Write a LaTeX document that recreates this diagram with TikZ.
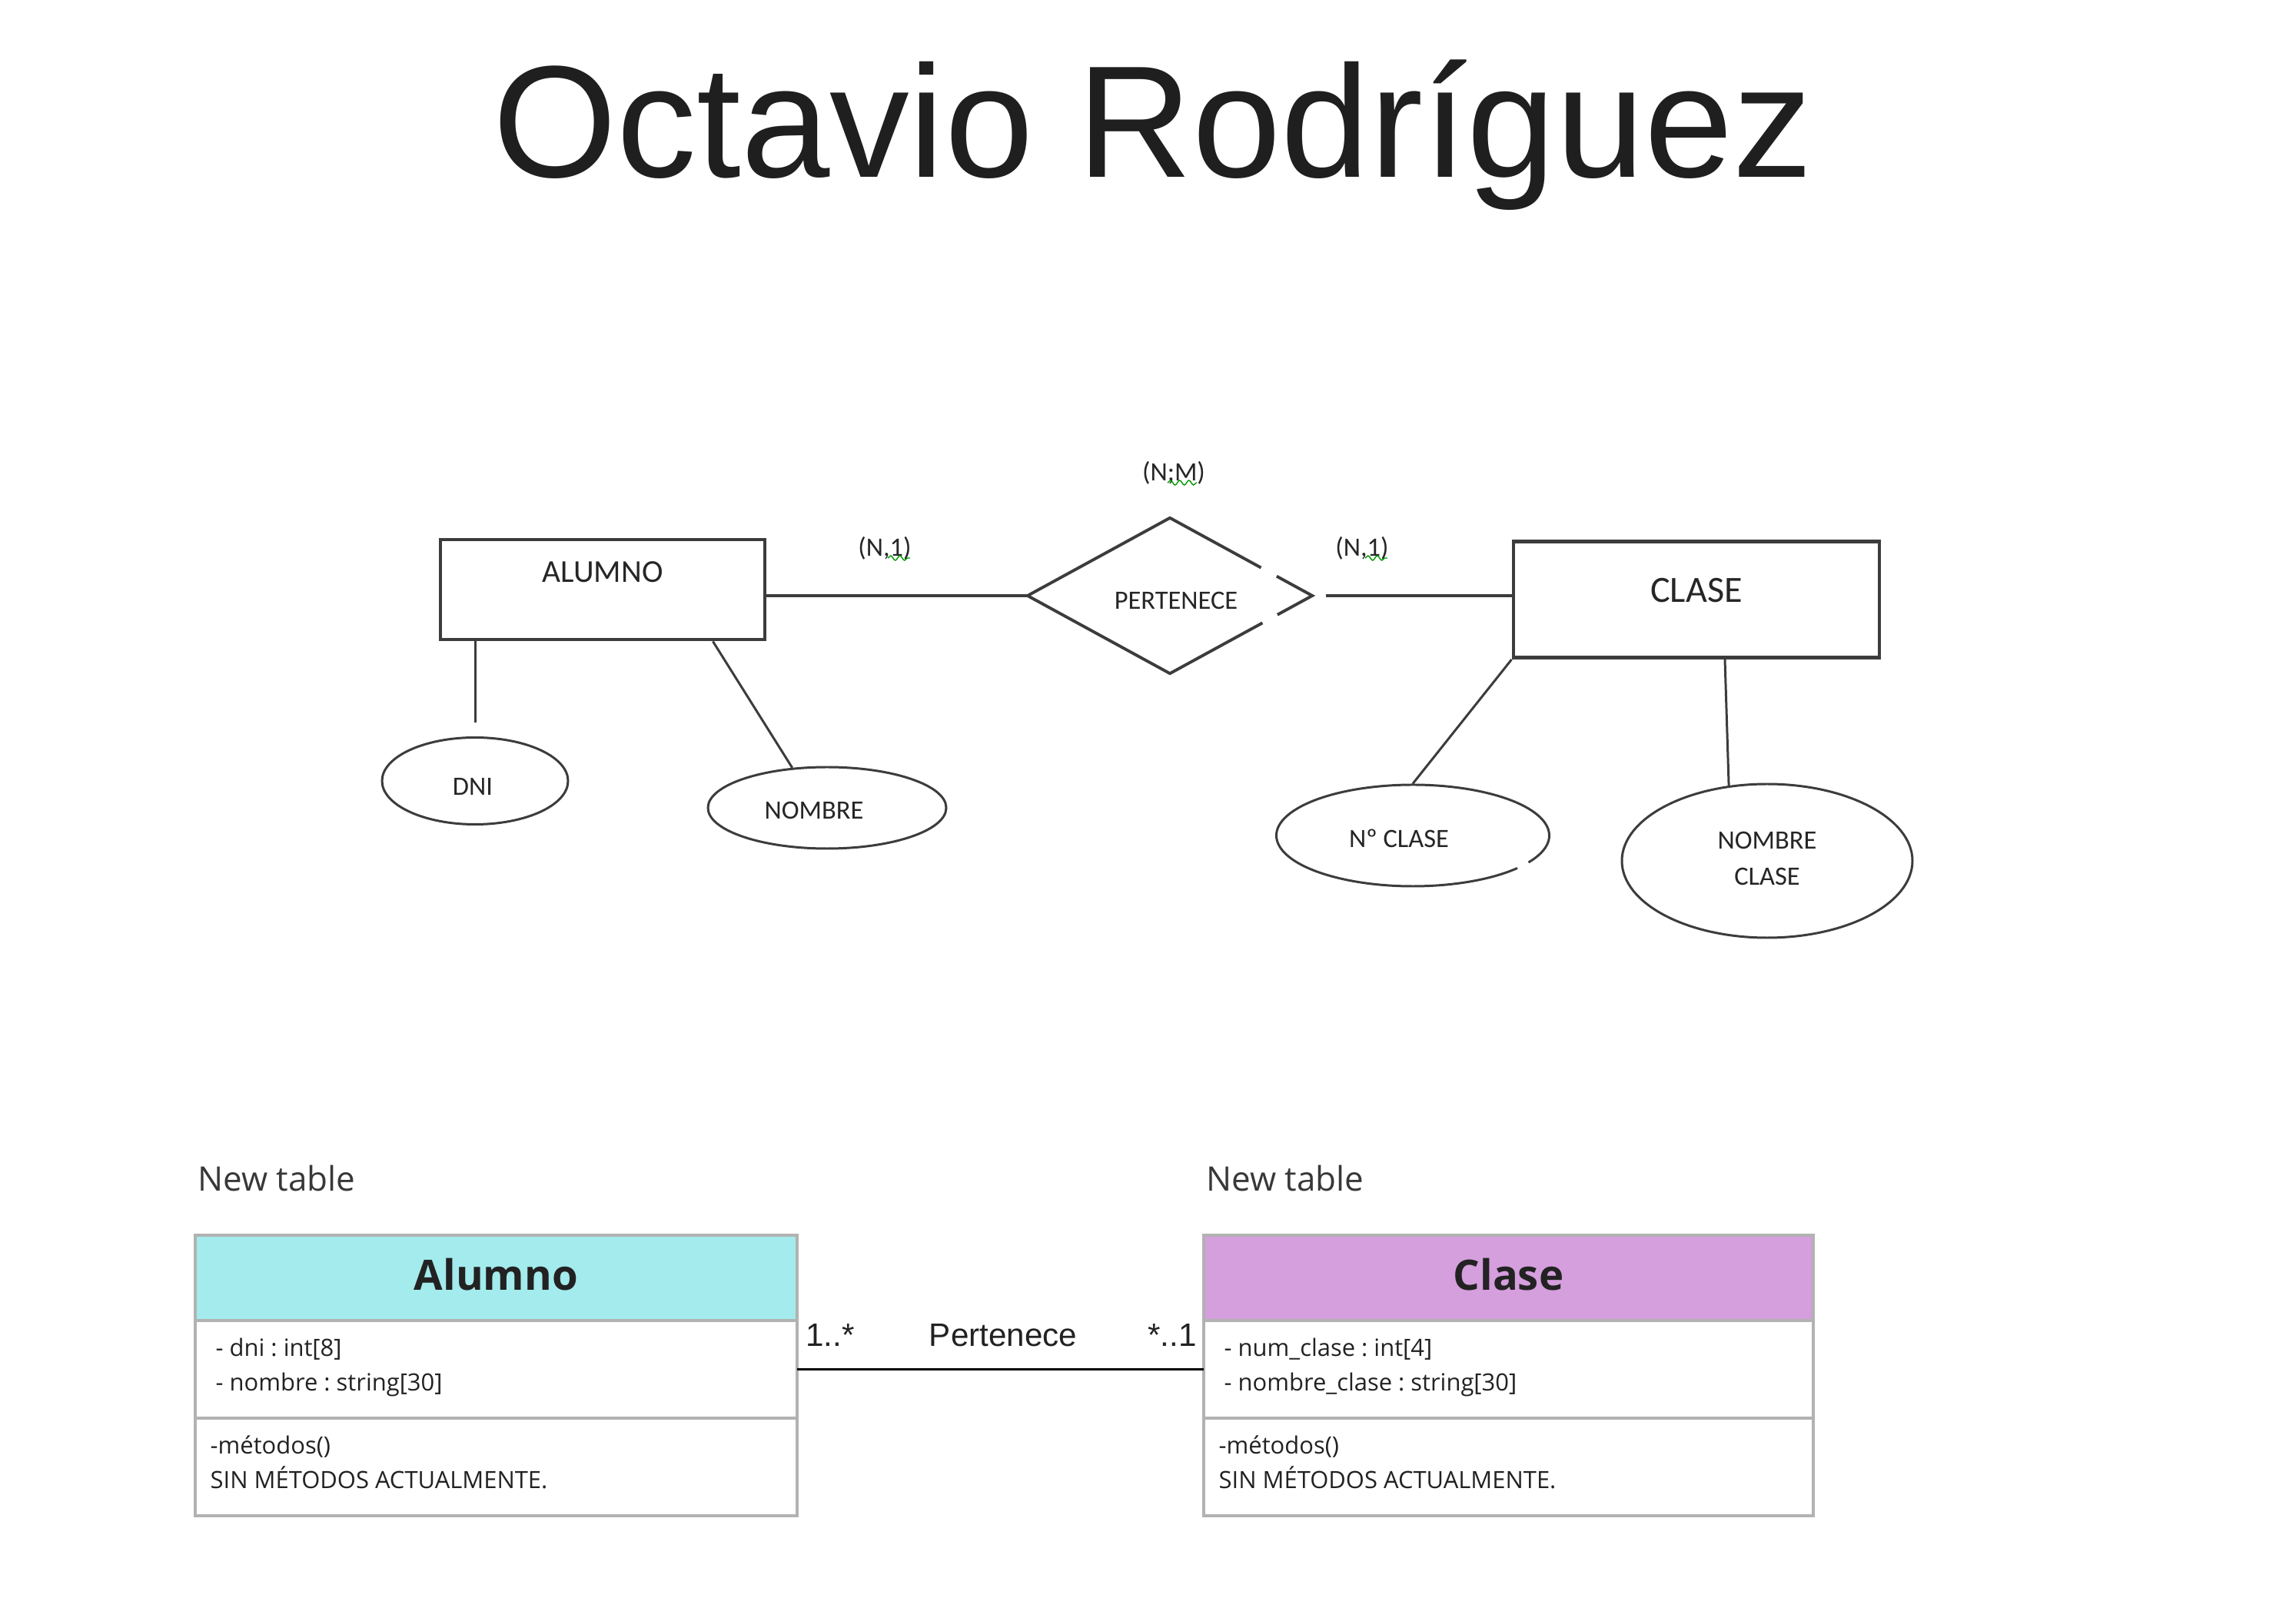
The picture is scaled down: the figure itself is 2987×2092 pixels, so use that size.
\documentclass[tikz,border=0pt]{standalone}
\usepackage{fontspec}
\setmainfont{Liberation Sans}
\newfontfamily\erfont{Carlito}
\newfontfamily\umlfont{Open Sans}
\usepackage{tikz}
\usetikzlibrary{positioning, calc, shapes.geometric, decorations.pathmorphing}
\frenchspacing

\definecolor{erlinea}{RGB}{60,60,60}
\definecolor{ertexto}{RGB}{38,38,38}
\definecolor{umlborde}{RGB}{178,178,178}
\definecolor{cian}{RGB}{163,235,236}
\definecolor{lila}{RGB}{213,158,221}
\definecolor{textoosc}{RGB}{34,34,34}

\begin{document}
\begin{tikzpicture}[x=0.1mm, y=-0.1mm,
    entidad/.style={draw=erlinea, line width=1.4pt, rectangle, inner sep=0pt},
    atributo/.style={draw=erlinea, line width=0.85pt, ellipse, inner sep=0pt},
    ertxt/.style={font=\erfont\fontsize{9.8}{13.6}\selectfont, text=ertexto, align=center},
    erlin/.style={draw=erlinea, line width=1.1pt},
    attlin/.style={draw=erlinea, line width=0.85pt},
    ondita/.style={draw=green!60!black, line width=0.4pt, decorate,
        decoration={snake, amplitude=0.3mm, segment length=1.2mm}},
    cabecera/.style={draw=umlborde, line width=0.9pt, inner sep=0pt, outer sep=0pt, minimum height=11.1mm,
        text depth=1mm, font=\umlfont\bfseries\fontsize{15.5}{18}\selectfont, text=textoosc},
    seccion/.style={draw=umlborde, line width=0.9pt, inner sep=0pt, outer sep=0pt, minimum height=12.7mm},
    secciontxt/.style={anchor=north west, align=left, inner xsep=#1, inner ysep=2.25mm,
        font=\umlfont\fontsize{8.8}{12.8}\selectfont, text=textoosc},
    nuevatabla/.style={font=\umlfont\fontsize{12.5}{15}\selectfont, text=textoosc!90, anchor=base west},
    conector/.style={draw=black, line width=0.8pt},
    multip/.style={font=\fontsize{12}{14}\selectfont, text=textoosc}
]
    \useasboundingbox (0,0) rectangle (2987,2092);
    \fill[white] (0,0) rectangle (2987,2092);

    % Titulo
    \node[font=\fontsize{59}{70}\selectfont, text=black!88, anchor=base] (titulo) at (1500,231) {Octavio Rodríguez};

    % Modelo entidad-relacion
    \node[entidad, minimum width=42.2mm, minimum height=13mm,
        label={[ertxt, font=\erfont\fontsize{11.8}{14}\selectfont, yshift=2.3mm]center:ALUMNO}] (alumno) at (784,767) {};
    \node[entidad, minimum width=47.6mm, minimum height=15.1mm,
        label={[ertxt, font=\erfont\fontsize{13.7}{16}\selectfont, yshift=1.2mm]center:CLASE}] (clase) at (2207,780) {};
    \node[diamond, inner sep=0pt, minimum width=36.9mm, minimum height=20.1mm,
        label={[ertxt, xshift=0.8mm, yshift=-0.6mm]center:PERTENECE}] (rel) at (1522,775) {};
    \draw[erlin] ($(rel.north)!0.64!(rel.east)$) -- (rel.north) -- (rel.west) -- (rel.south) -- ($(rel.south)!0.65!(rel.east)$);
    \draw[erlin] ($(rel.north)!0.75!(rel.east)$) -- (rel.east) -- ($(rel.east)!0.245!(rel.south)$);

    \node[atributo, minimum width=24.2mm, minimum height=11.3mm,
        label={[ertxt, xshift=-0.3mm, yshift=-0.7mm]center:DNI}] (dni) at (618,1016) {};
    \node[atributo, minimum width=31mm, minimum height=10.6mm,
        label={[ertxt, xshift=-1.7mm, yshift=-0.3mm]center:NOMBRE}] (nombre) at (1076,1051) {};
    \node[atributo, draw=none, minimum width=35.5mm, minimum height=13.2mm,
        label={[ertxt, xshift=-1.8mm, yshift=-0.4mm]center:Nº CLASE}] (numclase) at (1838,1087) {};
    \draw[attlin] ($(numclase.center)+(-32:17.75mm and 6.6mm)$)
        arc[start angle=-32, end angle=320, x radius=17.75mm, y radius=6.6mm];
    \node[atributo, minimum width=37.8mm, minimum height=20mm,
        label={[ertxt, yshift=0.3mm]center:NOMBRE\\CLASE}] (nomclase) at (2299,1120) {};

    \draw[erlin] (alumno.east |- rel.west) -- (rel.west);
    \draw[erlin] ([xshift=1.8mm]rel.east) -- (rel.east -| clase.west);
    \draw[attlin] (dni.north |- alumno.south) -- ([yshift=1.8mm]dni.north);
    \draw[attlin] ([xshift=-7mm]alumno.south east) -- (nombre.131);
    \draw[attlin] (clase.south west) -- (numclase.north);
    \draw[attlin] ([xshift=3.7mm]clase.south) -- (nomclase.117);

    % Cardinalidades
    \node[ertxt] (card1) at (1151,713) {(N,1)};
    \node[ertxt] (card2) at (1772,713) {(N,1)};
    \node[ertxt] (cardnm) at (1527,615) {(N;M)};
    \draw[ondita] ([xshift=0.4mm, yshift=-1.3mm]card1.center) -- ++(2.9mm,0);
    \draw[ondita] ([xshift=0.4mm, yshift=-1.3mm]card2.center) -- ++(2.9mm,0);
    \draw[ondita] ([xshift=-0.8mm, yshift=-1.3mm]cardnm.center) -- ++(3.8mm,0);

    % Diagrama UML
    \node[cabecera, fill=cian, minimum width=78.3mm] (alumnoHead) at (645.5,1662.5) {Alumno};
    \node[seccion, below=0pt of alumnoHead, minimum width=78.3mm,
        label={[secciontxt=2.6mm]north west:- dni : int[8]\\- nombre : string[30]}] (alumnoAttr) {};
    \node[seccion, below=0pt of alumnoAttr, minimum width=78.3mm,
        label={[secciontxt=1.9mm]north west:-métodos()\\SIN MÉTODOS ACTUALMENTE.}] (alumnoMeth) {};

    \node[cabecera, fill=lila, minimum width=79.3mm] (claseHead) at (1962.5,1662.5) {Clase};
    \node[seccion, below=0pt of claseHead, minimum width=79.3mm,
        label={[secciontxt=2.6mm]north west:- num\_clase : int[4]\\- nombre\_clase : string[30]}] (claseAttr) {};
    \node[seccion, below=0pt of claseAttr, minimum width=79.3mm,
        label={[secciontxt=1.9mm]north west:-métodos()\\SIN MÉTODOS ACTUALMENTE.}] (claseMeth) {};

    \node[nuevatabla] (tabla1) at ([xshift=-0.9mm, yshift=5.8mm]alumnoHead.north west) {New table};
    \node[nuevatabla] (tabla2) at ([xshift=-0.9mm, yshift=5.8mm]claseHead.north west) {New table};

    \draw[conector] (alumnoAttr.east) -- node[multip, anchor=base, xshift=0.35mm, yshift=3mm] (asoc) {Pertenece} (claseAttr.west);
    \node[multip, anchor=base west] (multA) at ([xshift=-0.1mm, yshift=3mm]alumnoAttr.east) {1..*};
    \node[multip, anchor=base east] (multC) at ([xshift=0.3mm, yshift=3mm]claseAttr.west) {*..1};
\end{tikzpicture}
\end{document}
